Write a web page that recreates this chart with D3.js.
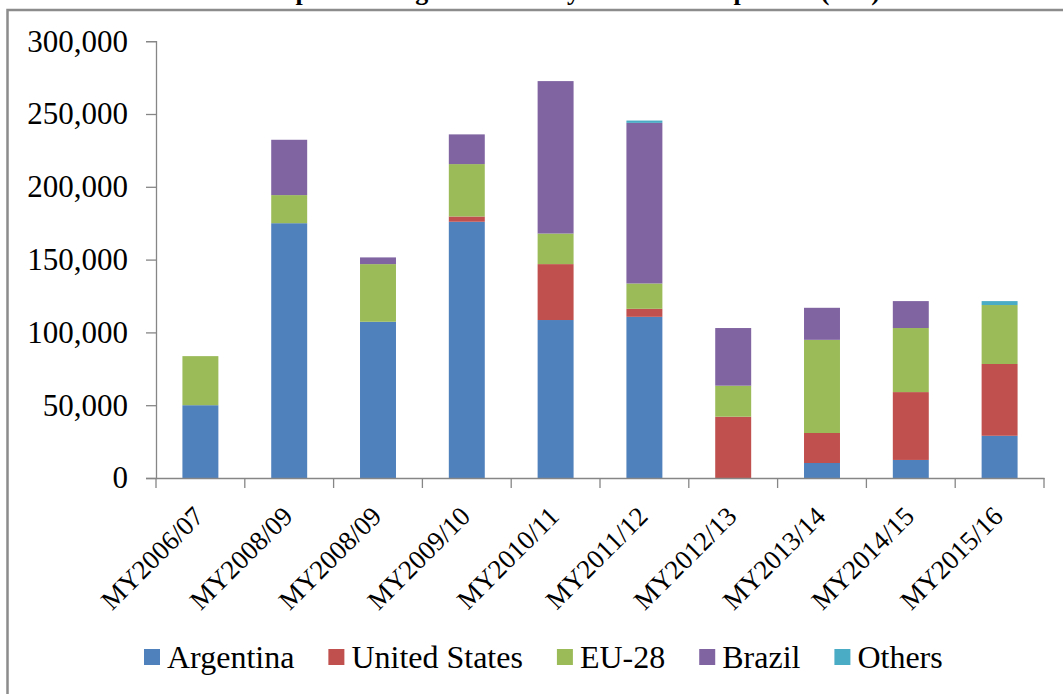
<!DOCTYPE html>
<html>
<head>
<meta charset="utf-8">
<script src="https://cdn.jsdelivr.net/npm/d3@7"></script>
<style>
  html, body { margin: 0; padding: 0; background: #fff; }
  svg { display: block; }
  text { font-family: "Liberation Serif", "Times New Roman", serif; fill: #000; }
</style>
</head>
<body>
<svg id="chart" width="1063" height="694"></svg>
<script>
// Marketing years shown on the category axis
const years = ["MY2006/07", "MY2008/09", "MY2008/09 ", "MY2009/10", "MY2010/11",
               "MY2011/12", "MY2012/13", "MY2013/14", "MY2014/15", "MY2015/16"];
const yearLabels = ["MY2006/07", "MY2008/09", "MY2008/09", "MY2009/10", "MY2010/11",
                    "MY2011/12", "MY2012/13", "MY2013/14", "MY2014/15", "MY2015/16"];

// Import volumes by origin (MT)
const argentina    = [50000, 175000, 107300, 176000, 108500, 110700, 0, 10300, 12400, 29000];
const unitedStates = [0, 0, 0, 3600, 38400, 5500, 42100, 20600, 46600, 49300];
const eu28         = [33700, 19300, 39600, 36000, 21000, 17400, 21300, 64000, 44000, 40500];
const brazil       = [0, 38000, 4600, 20400, 104700, 110300, 39600, 22000, 18500, 0];
const others       = [0, 0, 0, 0, 0, 1600, 0, 0, 0, 2700];

const seriesNames  = ["Argentina", "United States", "EU-28", "Brazil", "Others"];
const seriesColors = ["#4F81BD", "#C0504D", "#9BBB59", "#8064A2", "#4BACC6"];
const yTicks = [0, 50000, 100000, 150000, 200000, 250000, 300000];
const titleText = "Imports of Vegetable Oils by Source of Shipments (MT)";

const rows = years.map((y, i) => ({
  year: y,
  "Argentina": argentina[i],
  "United States": unitedStates[i],
  "EU-28": eu28[i],
  "Brazil": brazil[i],
  "Others": others[i]
}));

const svg = d3.select("#chart");
const W = 1063, H = 694;
const plot = { left: 156, right: 1044, top: 41.2, bottom: 478 };

svg.append("rect").attr("width", W).attr("height", H).attr("fill", "#fff");

// Outer chart frame (continues past the right/bottom edges)
svg.append("rect")
  .attr("x", 7.5).attr("y", 10).attr("width", W + 20).attr("height", H + 20)
  .attr("fill", "none").attr("stroke", "#8c8c8c").attr("stroke-width", 2.5);

// Title sits mostly above the visible area
svg.append("text")
  .attr("x", 880).attr("y", -0.5)
  .attr("text-anchor", "end")
  .style("font-size", "26px").style("font-weight", "bold")
  .text(titleText);

const x = d3.scaleBand().domain(years)
  .range([plot.left, plot.right])
  .paddingInner(0.595).paddingOuter(0.2975);

const y = d3.scaleLinear().domain([0, 300000]).range([plot.bottom, plot.top]);

const stack = d3.stack().keys(seriesNames);
const layers = stack(rows);

const axisColor = "#868686";

// Stacked bars
svg.append("g").selectAll("g")
  .data(layers).join("g")
  .attr("fill", (d, i) => seriesColors[i])
  .selectAll("rect")
  .data(d => d.filter(p => p[1] - p[0] > 0))
  .join("rect")
  .attr("x", d => x(d.data.year))
  .attr("width", x.bandwidth())
  .attr("y", d => y(d[1]))
  .attr("height", d => y(d[0]) - y(d[1]));

// Y axis
const yAxis = d3.axisLeft(y).tickValues(yTicks).tickSize(10).tickPadding(18)
  .tickFormat(d3.format(","));
const gy = svg.append("g").attr("transform", `translate(${plot.left},0)`).call(yAxis);
gy.select(".domain").attr("stroke", axisColor).attr("stroke-width", 1.3);
gy.selectAll(".tick line").attr("stroke", axisColor).attr("stroke-width", 1.3);
gy.selectAll(".tick text").style("font-size", "31px")
  .attr("font-family", null).attr("fill", "#000");

// X axis baseline and rotated category labels
const xAxis = d3.axisBottom(x).tickSize(0).tickSizeOuter(0)
  .tickFormat((d, i) => yearLabels[i]);
const gx = svg.append("g").attr("transform", `translate(0,${plot.bottom})`).call(xAxis);
gx.select(".domain").attr("stroke", axisColor).attr("stroke-width", 1.3);
gx.selectAll(".tick text")
  .style("font-size", "27px")
  .attr("font-family", null).attr("fill", "#000")
  .attr("text-anchor", "end")
  .attr("y", 0).attr("dy", 0)
  .attr("transform", "translate(5,40) rotate(-45)");

// Category boundary ticks
const boundaries = d3.range(years.length + 1).map(i => plot.left + i * x.step());
svg.append("g").selectAll("line").data(boundaries).join("line")
  .attr("x1", d => d).attr("x2", d => d)
  .attr("y1", plot.bottom).attr("y2", plot.bottom + 10)
  .attr("stroke", axisColor).attr("stroke-width", 1.3);

// Legend
const legend = svg.append("g").attr("transform", "translate(144,657)");
let lx = 0;
seriesNames.forEach((name, i) => {
  const g = legend.append("g").attr("transform", `translate(${lx},0)`);
  g.append("rect").attr("x", 0).attr("y", -8).attr("width", 16).attr("height", 16)
    .attr("fill", seriesColors[i]);
  const t = g.append("text").attr("x", 23).attr("y", 0).attr("dy", "0.33em")
    .style("font-size", "32px").text(name);
  lx += 23 + t.node().getComputedTextLength() + 34;
});
</script>
</body>
</html>
